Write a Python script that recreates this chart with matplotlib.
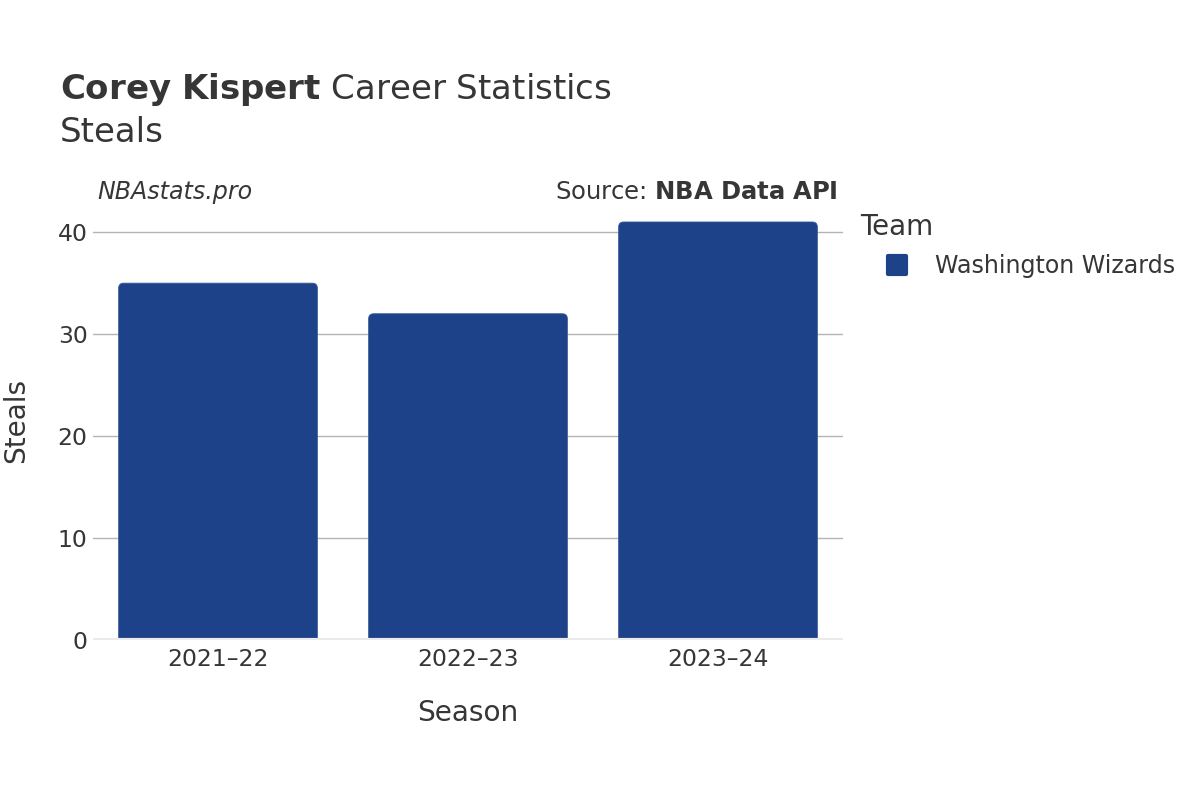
import matplotlib
matplotlib.use("Agg")
import matplotlib.pyplot as plt
from matplotlib.patches import FancyBboxPatch
from matplotlib.lines import Line2D
from matplotlib.markers import MarkerStyle

seasons = ["2021–22", "2022–23", "2023–24"]
steals = [35, 32, 41]
team = "Washington Wizards"
bar_color = "#1d4289"
text_color = "#363636"

plt.rcParams['font.family'] = ['DejaVu Sans']

def px(v):
    return v * 72 / 100

fig = plt.figure(figsize=(12, 8), dpi=100)
ax = fig.add_axes([93/1200, 1 - 640/800, 750/1200, 440/800])

x = list(range(len(seasons)))
width = 0.795
ymax = max(steals) * 1.0526
ax.set_xlim(-0.5, len(seasons) - 0.5)
ax.set_ylim(0, ymax)

# rounding: ~5 px
px_per_x = 750 / len(seasons)
px_per_y = 440 / ymax
rx = 5 / px_per_x
ry = 5 / px_per_y
for xi, v in zip(x, steals):
    p = FancyBboxPatch((xi - width/2, -ry*2), width, v + ry*2,
                       boxstyle=f"round,pad=0,rounding_size={rx}",
                       mutation_aspect=ry/rx,
                       facecolor=bar_color, edgecolor="#3a5a9a", linewidth=0.6,
                       zorder=3)
    ax.add_patch(p)

ax.set_yticks([0, 10, 20, 30, 40])
ax.set_xticks(x)
ax.set_xticklabels(seasons)
ax.grid(axis='y', color="#b4b4b4", linewidth=1, zorder=0)
ax.axhline(0, color="#ebebeb", linewidth=3, zorder=4)
for s in ax.spines.values():
    s.set_visible(False)
ax.tick_params(axis='both', length=0, labelsize=px(23.5), colors=text_color, pad=4)
ax.tick_params(axis='x', pad=6)
ax.set_xlabel("Season", fontsize=px(28), color=text_color, labelpad=20)
ax.set_ylabel("Steals", fontsize=px(28), color=text_color, labelpad=20)

fig.text(60/1200, 1 - 89/800, r"$\bf{Corey\ Kispert}$" + " Career Statistics",
         fontsize=px(34), color=text_color, va='center', ha='left')
fig.text(60/1200, 1 - 132/800, "Steals", fontsize=px(34), color=text_color,
         va='center', ha='left')
fig.text(97/1200, 1 - 192/800, "NBAstats.pro", fontsize=px(23.8), style='italic',
         color=text_color, va='center', ha='left')
fig.text(838/1200, 1 - 192/800, r"Source: $\bf{NBA\ Data\ API}$", fontsize=px(24.2),
         color=text_color, va='center', ha='right')

fig.text(860/1200, 1 - 227/800, "Team", fontsize=px(27.8), color=text_color,
         va='center', ha='left')
handle = Line2D([0], [0], marker=MarkerStyle('s', joinstyle='round'),
                linestyle='none', markersize=px(18),
                markerfacecolor=bar_color, markeredgecolor=bar_color,
                markeredgewidth=3)
fig.legend([handle], [team], loc='center left',
           bbox_to_anchor=(871/1200, 1 - 266/800), frameon=False,
           fontsize=px(23.8), labelcolor=text_color, handletextpad=1.0,
           borderpad=0, handlelength=1.2)

fig.savefig("out.png", dpi=100, facecolor="white")
